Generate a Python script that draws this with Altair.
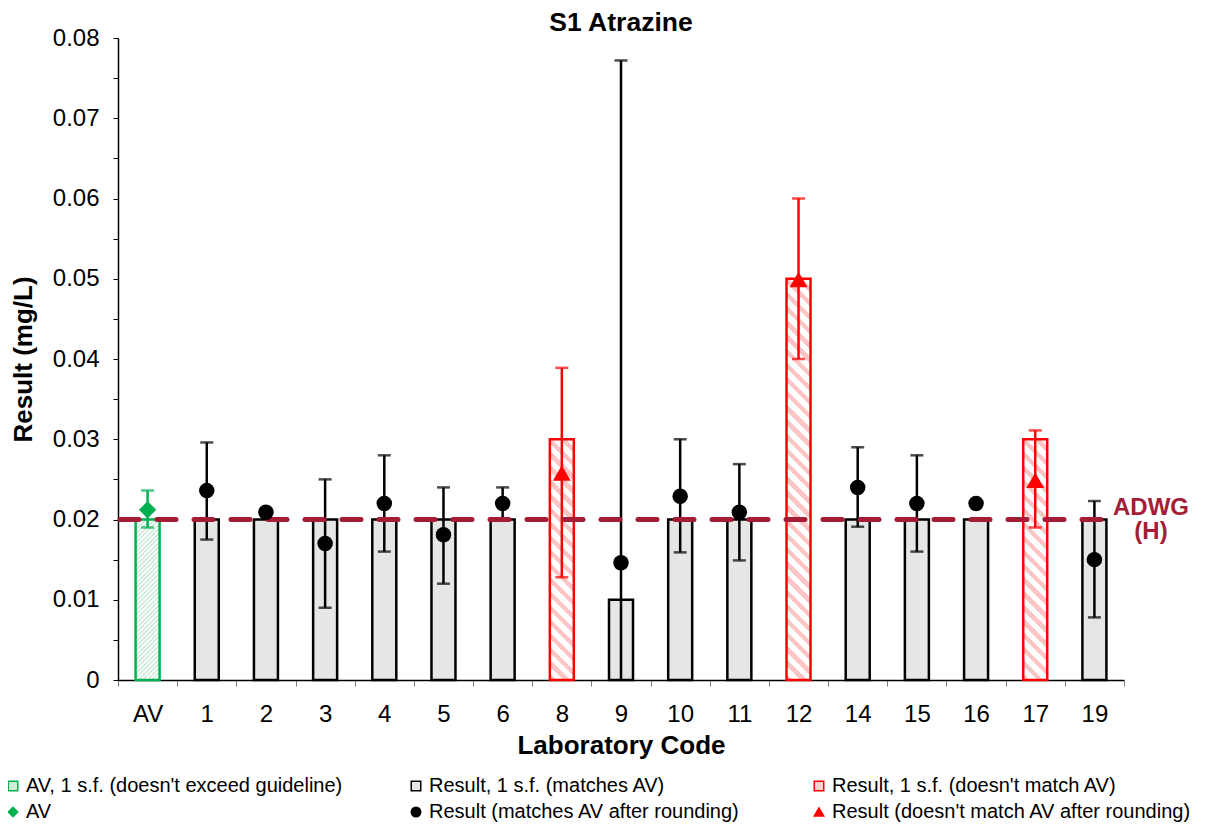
import altair as alt
import pandas as pd

# ---------------- data ----------------
labs = ["AV", "1", "2", "3", "4", "5", "6", "8", "9", "10", "11", "12", "14", "15", "16", "17", "19"]
bar_values = [0.02, 0.02, 0.02, 0.02, 0.02, 0.02, 0.02, 0.03, 0.01, 0.02, 0.02, 0.05, 0.02, 0.02, 0.02, 0.03, 0.02]
results = [0.0212, 0.0236, 0.0209, 0.0170, 0.0220, 0.0181, 0.0220, 0.0258, 0.0146, 0.0229, 0.0209,
           0.0499, 0.0240, 0.0220, 0.0220, 0.0249, 0.0150]
err_hi = [0.0236, 0.0296, None, 0.0250, 0.0280, 0.0240, 0.0240, 0.0389, 0.0772, 0.0300, 0.0269,
          0.0600, 0.0290, 0.0280, None, 0.0311, 0.0223]
err_lo = [0.0190, 0.0175, None, 0.0090, 0.0160, 0.0120, 0.0200, 0.0128, 0.0, 0.0159, 0.0149,
          0.0400, 0.0191, 0.0160, None, 0.0190, 0.0078]
status = ["av", "match", "match", "match", "match", "match", "match", "nomatch", "match", "match", "match",
          "nomatch", "match", "match", "match", "nomatch", "match"]
guideline = 0.02
guideline_label = "ADWG\n(H)"

legend_entries = ["AV, 1 s.f. (doesn't exceed guideline)", "Result, 1 s.f. (matches AV)",
                  "Result, 1 s.f. (doesn't match AV)", "AV", "Result (matches AV after rounding)",
                  "Result (doesn't match AV after rounding)"]
legend_shapes = ["square", "square", "square", "diamond", "circle", "triangle-up"]
legend_fills = ["#CFEFDB", "#E6E6E6", "#FFD0D0", "#00B050", "#000000", "#FF0000"]
legend_strokes = ["#00B050", "#000000", "#FF0000", "#00B050", "#000000", "#FF0000"]

# ---------------- styling ----------------
FONT = "Liberation Sans"
W, H = 1006, 642
YMAX = 0.08
BAR_W = 24
GREEN, RED, CRIMSON = "#00B050", "#FF0000", "#A51C36"
status_color = {"av": GREEN, "match": "#000000", "nomatch": RED}

df = pd.DataFrame({"lab": labs, "bar": bar_values, "result": results,
                   "hi": err_hi, "lo": err_lo, "status": status})

x_enc = alt.X("lab:N", sort=labs,
              scale=alt.Scale(paddingInner=0, paddingOuter=0),
              axis=alt.Axis(title="Laboratory Code", labelAngle=0, tickBand="extent",
                            tickColor="#808080", tickSize=6, tickWidth=1,
                            domainColor="#000000", domainWidth=1.5,
                            labelFontSize=24, labelPadding=16, labelColor="#000000",
                            titleFontSize=26, titleFontWeight="bold", titlePadding=6,
                            titleColor="#000000"))
y_scale = alt.Scale(domain=[0, YMAX], nice=False)
y_axis = alt.Axis(title="Result (mg/L)", values=[i * 0.005 for i in range(17)],
                  labelExpr="round(datum.value*200) % 2 == 1 ? '' : (datum.value == 0 ? '0' : format(datum.value, '.2f'))",
                  tickSize=5, tickColor="#000000", domainColor="#000000", domainWidth=1.5,
                  grid=False, labelFontSize=24, labelPadding=14, labelColor="#000000",
                  titleFontSize=26, titleFontWeight="bold", titlePadding=16, titleColor="#000000")


def hatch(value, color, period, frac, forward):
    """Diagonal stripes made as a hard-stop linear gradient in bounding-box units."""
    h = value / YMAX * H
    w = BAR_W
    c = (w + h) / (w * w + h * h)
    n = max(1, int(round((w + h) / period)))
    stops = []
    for i in range(n):
        a = i / n
        b = (i + frac) / n
        e = (i + 1) / n
        stops += [alt.GradientStop(offset=a, color=color), alt.GradientStop(offset=b, color=color),
                  alt.GradientStop(offset=b, color="#FFFFFF"), alt.GradientStop(offset=e, color="#FFFFFF")]
    if forward:   # "/" stripes
        return alt.LinearGradient(gradient="linear", stops=stops, x1=0, y1=0, x2=c * w, y2=c * h)
    return alt.LinearGradient(gradient="linear", stops=stops, x1=0, y1=1, x2=c * w, y2=1 - c * h)


base = alt.Chart(df)
layers = []

# plain bars
layers.append(base.transform_filter(alt.datum.status == "match").mark_bar(
    size=BAR_W, fill="#E6E6E6", stroke="#000000", strokeWidth=2.5
).encode(x=x_enc, y=alt.Y("bar:Q", scale=y_scale, axis=y_axis)))

# hatched bars (one layer per distinct height so the stripes keep their angle)
for st, val in sorted({(s, v) for s, v in zip(status, bar_values) if s != "match"}):
    if st == "av":
        fill = hatch(val, "#C8EDD6", 4.5, 0.5, True)
    else:
        fill = hatch(val, "#FFC4C4", 14, 0.45, False)
    layers.append(base.transform_filter(
        (alt.datum.status == st) & (alt.datum.bar == val)
    ).mark_bar(size=BAR_W, fill=fill, stroke=status_color[st], strokeWidth=2.5).encode(
        x=x_enc, y=alt.Y("bar:Q", scale=y_scale, axis=y_axis)))

# error bars
for st, col in status_color.items():
    sub = base.transform_filter((alt.datum.status == st) & alt.expr.isValid(alt.datum.hi))
    layers.append(sub.mark_rule(color=col, strokeWidth=2.5).encode(
        x=x_enc, y=alt.Y("lo:Q", scale=y_scale, axis=y_axis), y2="hi:Q"))
    layers.append(sub.transform_fold(["hi", "lo"], as_=["end", "v"]).transform_filter(
        alt.datum.v > 0).mark_tick(color=col, size=13, thickness=2.5, orient="horizontal").encode(
        x=x_enc, y=alt.Y("v:Q", scale=y_scale, axis=y_axis)))

# guideline
gl = alt.Chart(pd.DataFrame({"y": [guideline], "label": [guideline_label]}))
layers.append(gl.mark_rule(color=CRIMSON, strokeWidth=5, strokeDash=[19, 18], strokeCap="round").encode(
    y=alt.Y("y:Q", scale=y_scale, axis=y_axis), x=alt.value(2), x2=alt.value(W - 10)))
layers.append(gl.mark_text(color=CRIMSON, fontSize=24, fontWeight="bold", font=FONT,
                           lineBreak="\n", lineHeight=24, align="center", baseline="middle",
                           dy=-12).encode(
    y=alt.Y("y:Q", scale=y_scale, axis=y_axis), x=alt.value(W + 27), text="label:N"))

# result points
for st, shape, size in [("av", "diamond", 300), ("match", "circle", 240), ("nomatch", "triangle-up", 320)]:
    layers.append(base.transform_filter(alt.datum.status == st).mark_point(
        filled=True, shape=shape, size=size, color=status_color[st], opacity=1).encode(
        x=x_enc, y=alt.Y("result:Q", scale=y_scale, axis=y_axis)))

# legend (invisible carrier layer)
leg_df = pd.DataFrame({"entry": legend_entries})
leg = alt.Legend(title=None, orient="none", legendX=-115, legendY=738, columns=3, gridAlign="all",
                 direction="horizontal", columnPadding=20, rowPadding=6, labelFontSize=20,
                 labelFont=FONT, labelColor="#000000", labelLimit=600, symbolSize=90,
                 symbolStrokeWidth=1.5, labelOffset=3, symbolOpacity=1)
layers.append(alt.Chart(leg_df).mark_point(filled=True, opacity=0).encode(
    shape=alt.Shape("entry:N", sort=legend_entries,
                    scale=alt.Scale(domain=legend_entries, range=legend_shapes), legend=leg),
    fill=alt.Fill("entry:N", sort=legend_entries,
                  scale=alt.Scale(domain=legend_entries, range=legend_fills), legend=leg),
    stroke=alt.Stroke("entry:N", sort=legend_entries,
                      scale=alt.Scale(domain=legend_entries, range=legend_strokes), legend=leg)))

chart = alt.layer(*layers).properties(
    width=W, height=H,
    title=alt.TitleParams("S1 Atrazine", fontSize=26.5, fontWeight="bold", font=FONT, anchor="middle",
                          frame="group", color="#000000", offset=-10),
    autosize=alt.AutoSizeParams(type="none"),
    padding={"left": 110, "top": 30, "right": 80, "bottom": 143},
).configure(font=FONT).configure_view(stroke=None)

chart.save("out.html", embed_options={"renderer": "svg", "actions": False})
